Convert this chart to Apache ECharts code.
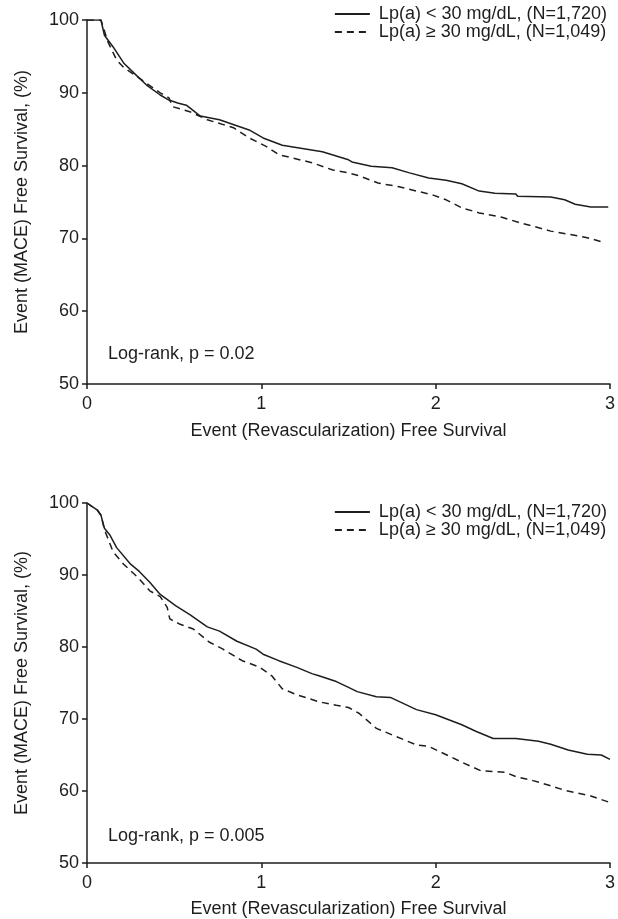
<!DOCTYPE html>
<html>
<head>
<meta charset="utf-8">
<script src="https://cdn.jsdelivr.net/npm/echarts@6/dist/echarts.min.js"></script>
<style>
  html, body { margin: 0; padding: 0; background: #fff; }
  #chart { width: 618px; height: 919px; }
</style>
</head>
<body>
<div id="chart"></div>
<script>
// legend names
const lowName = 'Lp(a) < 30 mg/dL, (N=1,720)';
const highName = 'Lp(a) \u2265 30 mg/dL, (N=1,049)';

const xTicks = [0, 1, 2, 3];
const yTicks = [50, 60, 70, 80, 90, 100];

// top panel: Lp(a) < 30 (solid)
const topLowT = [0, 0.08, 0.10, 0.15, 0.21, 0.27, 0.34, 0.42, 0.47, 0.52, 0.57, 0.65, 0.76, 0.93, 1.01, 1.12, 1.35, 1.50, 1.52, 1.63, 1.75, 1.85, 1.96, 2.06, 2.15, 2.25, 2.34, 2.46, 2.47, 2.66, 2.74, 2.80, 2.89, 2.99];
const topLowS = [100, 100, 97.9, 96.3, 94.1, 92.7, 91.1, 89.7, 89.0, 88.6, 88.3, 86.8, 86.3, 84.9, 83.8, 82.8, 81.9, 80.8, 80.5, 79.9, 79.7, 79.0, 78.3, 78.0, 77.5, 76.5, 76.2, 76.1, 75.8, 75.7, 75.3, 74.7, 74.3, 74.3];
// top panel: Lp(a) >= 30 (dashed)
const topHighT = [0, 0.08, 0.12, 0.17, 0.21, 0.30, 0.42, 0.47, 0.49, 0.59, 0.69, 0.84, 0.93, 1.03, 1.10, 1.29, 1.41, 1.50, 1.56, 1.67, 1.79, 1.89, 1.98, 2.06, 2.15, 2.25, 2.38, 2.49, 2.57, 2.66, 2.78, 2.87, 2.97];
const topHighS = [100, 100, 97.0, 94.5, 93.5, 92.0, 90.0, 89.3, 88.1, 87.4, 86.3, 85.2, 83.8, 82.6, 81.5, 80.4, 79.4, 79.0, 78.6, 77.6, 77.1, 76.5, 76.0, 75.3, 74.2, 73.5, 72.9, 72.1, 71.6, 71.0, 70.5, 70.1, 69.4];

// bottom panel: Lp(a) < 30 (solid)
const botLowT = [0, 0.03, 0.06, 0.08, 0.10, 0.13, 0.17, 0.25, 0.30, 0.36, 0.42, 0.51, 0.59, 0.69, 0.76, 0.86, 0.97, 1.01, 1.10, 1.20, 1.29, 1.33, 1.43, 1.50, 1.55, 1.66, 1.74, 1.89, 2.00, 2.15, 2.23, 2.33, 2.46, 2.59, 2.66, 2.76, 2.87, 2.95, 3.0];
const botLowS = [100, 99.5, 99.0, 98.3, 96.5, 95.6, 93.8, 91.5, 90.5, 89.0, 87.3, 85.7, 84.5, 82.8, 82.2, 80.8, 79.7, 79.0, 78.1, 77.2, 76.3, 76.0, 75.2, 74.4, 73.8, 73.1, 73.0, 71.3, 70.6, 69.2, 68.3, 67.3, 67.3, 66.9, 66.5, 65.7, 65.1, 65.0, 64.4];
// bottom panel: Lp(a) >= 30 (dashed)
const botHighT = [0, 0.03, 0.06, 0.08, 0.10, 0.15, 0.21, 0.29, 0.36, 0.42, 0.46, 0.475, 0.53, 0.61, 0.70, 0.78, 0.89, 0.99, 1.06, 1.12, 1.20, 1.33, 1.43, 1.50, 1.56, 1.66, 1.73, 1.89, 1.96, 2.09, 2.15, 2.26, 2.40, 2.46, 2.55, 2.65, 2.74, 2.89, 3.0];
const botHighS = [100, 99.5, 99.0, 98.3, 96.3, 93.2, 91.5, 89.7, 87.8, 87.0, 85.5, 83.9, 83.2, 82.5, 80.7, 79.7, 78.1, 77.2, 76.0, 74.2, 73.4, 72.4, 71.9, 71.6, 70.8, 68.7, 68.0, 66.4, 66.2, 64.7, 64.0, 62.8, 62.6, 62.0, 61.5, 60.8, 60.1, 59.3, 58.4];

const pairs = (t, s) => t.map((v, i) => [v, s[i]]);

const FONT = 'Liberation Sans, Arial, sans-serif';
const INK = '#1e1e1e';

function xAxisCfg(gridIndex, nameGap) {
  return {
    type: 'value', gridIndex: gridIndex,
    min: xTicks[0], max: xTicks[xTicks.length - 1], interval: 1,
    name: 'Event (Revascularization) Free Survival',
    nameLocation: 'middle', nameGap: nameGap,
    nameTextStyle: { fontFamily: FONT, fontSize: 18, color: INK },
    axisLine: { show: true, lineStyle: { color: INK, width: 1.5 } },
    axisTick: { show: true, length: 5, lineStyle: { color: INK, width: 1.5 } },
    axisLabel: { fontFamily: FONT, fontSize: 18, color: INK, margin: 11 },
    splitLine: { show: false }
  };
}

function yAxisCfg(gridIndex) {
  return {
    type: 'value', gridIndex: gridIndex,
    min: yTicks[0], max: yTicks[yTicks.length - 1], interval: 10,
    name: 'Event (MACE) Free Survival, (%)',
    nameLocation: 'middle', nameGap: 56,
    nameTextStyle: { fontFamily: FONT, fontSize: 18, color: INK },
    axisLine: { show: true, lineStyle: { color: INK, width: 1.5 } },
    axisTick: { show: true, length: 5, lineStyle: { color: INK, width: 1.5 } },
    axisLabel: { fontFamily: FONT, fontSize: 18, color: INK, margin: 8 },
    splitLine: { show: false }
  };
}

function curve(name, idx, data, dashed) {
  return {
    name: name, type: 'line', xAxisIndex: idx, yAxisIndex: idx,
    data: data, symbol: 'none', showSymbol: false,
    lineStyle: { color: INK, width: 1.5, type: dashed ? [7, 5] : 'solid' },
    itemStyle: { color: INK },
    z: dashed ? 2 : 3
  };
}

function legendCfg(top) {
  return {
    orient: 'vertical', right: 6, top: top,
    itemWidth: 35, itemHeight: 12, itemGap: 0,
    data: [lowName, highName],
    itemStyle: { opacity: 0 },   // hide the dot, keep the line sample
    textStyle: { fontFamily: FONT, fontSize: 18, color: INK, padding: [0, 0, 0, 4] },
    selectedMode: false
  };
}

const chart = echarts.init(document.getElementById('chart'));
chart.setOption({
  animation: false,
  backgroundColor: '#fff',
  title: [
    { text: 'Log-rank, p = 0.02', left: 108, top: 345, padding: 0,
      textStyle: { fontFamily: FONT, fontSize: 18, fontWeight: 'normal', color: INK } },
    { text: 'Log-rank, p = 0.005', left: 108, top: 827, padding: 0,
      textStyle: { fontFamily: FONT, fontSize: 18, fontWeight: 'normal', color: INK } }
  ],
  legend: [legendCfg(0), legendCfg(498)],
  grid: [
    { left: 87, right: 6, top: 20, height: 364 },
    { left: 87, right: 6, top: 503, height: 363 }
  ],
  xAxis: [xAxisCfg(0, 38), xAxisCfg(1, 37)],
  yAxis: [yAxisCfg(0), yAxisCfg(1)],
  series: [
    curve(lowName, 0, pairs(topLowT, topLowS), false),
    curve(highName, 0, pairs(topHighT, topHighS), true),
    curve(lowName, 1, pairs(botLowT, botLowS), false),
    curve(highName, 1, pairs(botHighT, botHighS), true)
  ]
});
</script>
</body>
</html>
